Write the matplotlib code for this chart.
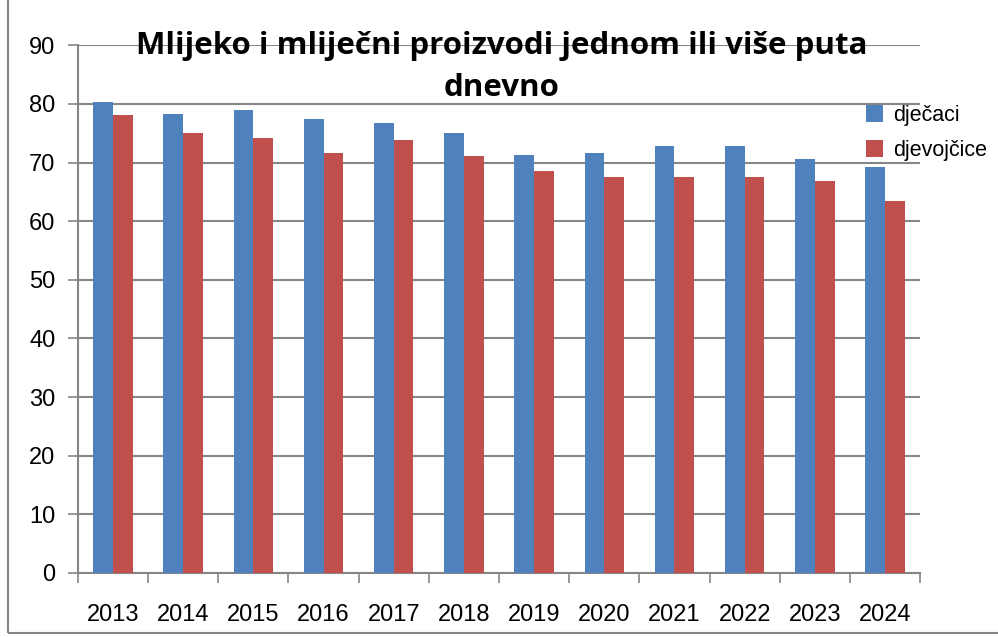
import matplotlib
matplotlib.use("Agg")
import matplotlib.pyplot as plt
from matplotlib.patches import Rectangle
import numpy as np

years = ['2013', '2014', '2015', '2016', '2017', '2018',
         '2019', '2020', '2021', '2022', '2023', '2024']
djecaci = [80.3, 78.2, 78.9, 77.5, 76.7, 75.0, 71.3, 71.7, 72.8, 72.9, 70.6, 69.3]
djevojcice = [78.1, 75.0, 74.1, 71.6, 73.8, 71.1, 68.6, 67.5, 67.5, 67.5, 66.8, 63.5]
title = 'Mlijeko i mliječni proizvodi jednom ili više puta\ndnevno'

plt.rcParams['font.family'] = ['Liberation Sans Narrow', 'Liberation Sans', 'DejaVu Sans']

fig = plt.figure(figsize=(9.98, 6.37), dpi=100)
ax = fig.add_axes([0.078, 0.1005, 0.844, 0.8285])

x = np.arange(len(years))
w = 0.28
ax.bar(x - w / 2, djecaci, w, color='#4F81BD', label='dječaci', zorder=3)
ax.bar(x + w / 2, djevojcice, w, color='#C0504D', label='djevojčice', zorder=3)

ax.set_xlim(-0.5, len(years) - 0.5)
ax.set_ylim(0, 90)
ax.set_yticks(range(0, 91, 10))
ax.grid(axis='y', color='#868686', linewidth=1.5, zorder=0)

# category boundary ticks on x, labels centred
ax.set_xticks(x)
ax.set_xticklabels(years, fontsize=17)
ax.set_xticks(np.arange(-0.5, len(years)), minor=True)
ax.tick_params(axis='x', which='major', length=0, pad=22)
ax.tick_params(axis='x', which='minor', length=7, color='#868686', width=1.2)
ax.tick_params(axis='y', length=7, color='#868686', width=1.2, labelsize=17, pad=9)

for side in ['top', 'right']:
    ax.spines[side].set_visible(False)
for side in ['left', 'bottom']:
    ax.spines[side].set_color('#868686')
    ax.spines[side].set_linewidth(1.5)

fig.text(0.503, 1 - 67 / 637, title, ha='center', va='center', fontsize=22.5,
         fontweight='bold', family=['Open Sans', 'DejaVu Sans'], linespacing=1.55)

fig.legend(loc='upper left', bbox_to_anchor=(0.857, 0.852), frameon=False,
           fontsize=15.5, handlelength=0.8, handleheight=0.8, handletextpad=0.45,
           labelspacing=0.65, borderpad=0)

fig.patches.append(Rectangle((0.008, 0.006), 1.2, 1.2, transform=fig.transFigure,
                             fill=False, edgecolor='#868686', linewidth=1.5))

fig.savefig('out.png', dpi=100)
